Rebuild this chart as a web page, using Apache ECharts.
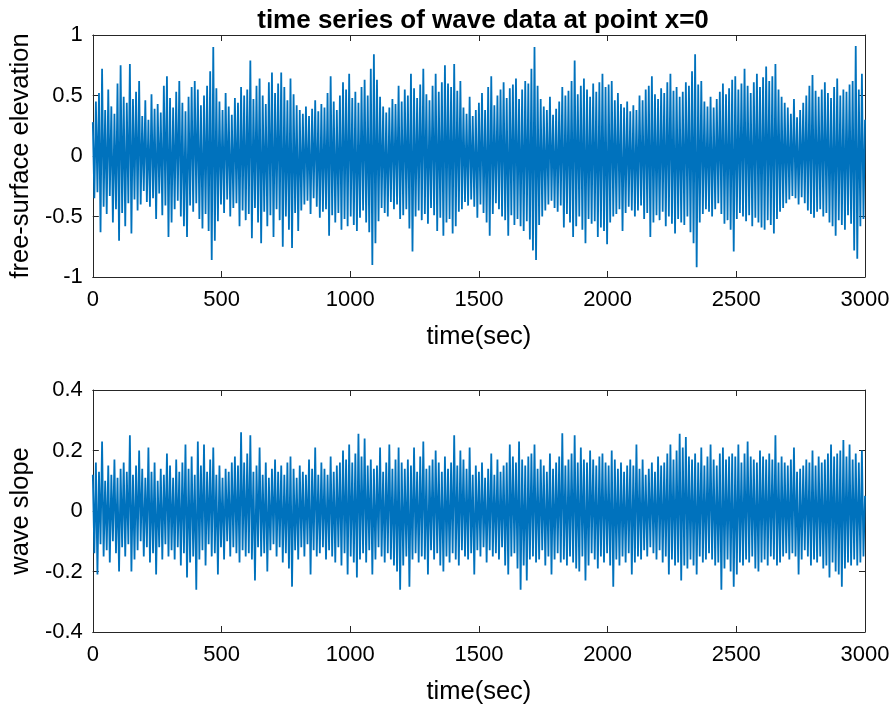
<!DOCTYPE html>
<html>
<head>
<meta charset="utf-8">
<script src="https://cdn.jsdelivr.net/npm/echarts@6/dist/echarts.min.js"></script>
<style>html,body{margin:0;padding:0;background:#fff}#c{width:894px;height:707px}</style>
</head>
<body>
<div id="c"></div>
<script>
// sampling step (sec) of the hand-read envelope series
const dt = 6;
const title = 'time series of wave data at point x=0';
const xName = 'time(sec)';
const yName1 = 'free-surface elevation';
const yName2 = 'wave slope';

// free-surface elevation, t = 0..2994 step 6, then t=3000
const elev = [
0.28,-0.35,0.45,-0.30,0.52,-0.63,0.72,-0.42,0.38,-0.48,0.55,-0.33,0.41,-0.55,0.35,-0.44,0.60,-0.70,0.75,-0.47,0.49,-0.58,0.44,-0.39,0.76,-0.64,0.47,-0.36,0.53,-0.45,0.62,-0.40,0.33,-0.29,0.46,-0.38,0.30,-0.42,0.51,-0.35,0.39,-0.52,0.43,-0.31,0.36,-0.49,0.58,-0.41,0.66,-0.67,
0.48,-0.55,0.40,-0.44,0.53,-0.37,0.62,-0.50,0.44,-0.58,0.37,-0.67,0.49,-0.41,0.57,-0.46,0.62,-0.39,0.55,-0.52,0.42,-0.60,0.50,-0.48,0.58,-0.62,0.70,-0.86,0.90,-0.70,0.56,-0.54,0.45,-0.40,0.38,-0.47,0.52,-0.36,0.41,-0.50,0.34,-0.43,0.48,-0.39,0.44,-0.58,0.57,-0.45,0.50,-0.53,
0.55,-0.48,0.79,-0.68,0.47,-0.43,0.58,-0.55,0.64,-0.72,0.50,-0.46,0.43,-0.58,0.61,-0.49,0.69,-0.67,0.52,-0.44,0.60,-0.53,0.69,-0.75,0.57,-0.50,0.46,-0.61,0.64,-0.76,0.51,-0.47,0.42,-0.62,0.38,-0.45,0.35,-0.40,0.41,-0.37,0.33,-0.48,0.39,-0.35,0.46,-0.42,0.37,-0.51,0.43,-0.46,
0.40,-0.44,0.52,-0.66,0.66,-0.49,0.45,-0.55,0.38,-0.47,0.50,-0.61,0.61,-0.52,0.55,-0.58,0.68,-0.50,0.48,-0.57,0.53,-0.62,0.44,-0.51,0.57,-0.45,0.63,-0.55,0.50,-0.63,0.72,-0.90,0.84,-0.72,0.63,-0.54,0.49,-0.43,0.41,-0.47,0.36,-0.50,0.40,-0.38,0.47,-0.44,0.43,-0.40,0.58,-0.52,
0.45,-0.49,0.55,-0.44,0.50,-0.60,0.68,-0.79,0.56,-0.50,0.48,-0.45,0.59,-0.53,0.72,-0.48,0.51,-0.56,0.46,-0.43,0.58,-0.49,0.68,-0.62,0.53,-0.51,0.61,-0.66,0.75,-0.55,0.60,-0.52,0.57,-0.64,0.76,-0.58,0.54,-0.46,0.62,-0.44,0.40,-0.38,0.35,-0.41,0.49,-0.36,0.33,-0.42,0.38,-0.51,
0.44,-0.40,0.52,-0.47,0.38,-0.55,0.57,-0.66,0.66,-0.48,0.42,-0.39,0.50,-0.44,0.55,-0.50,0.61,-0.53,0.48,-0.66,0.56,-0.49,0.59,-0.57,0.64,-0.52,0.47,-0.58,0.55,-0.62,0.62,-0.54,0.60,-0.69,0.72,-0.78,0.90,-0.86,0.58,-0.57,0.47,-0.50,0.41,-0.45,0.38,-0.40,0.49,-0.37,0.34,-0.43,
0.39,-0.46,0.45,-0.41,0.57,-0.59,0.50,-0.48,0.54,-0.55,0.62,-0.67,0.79,-0.58,0.51,-0.50,0.58,-0.61,0.64,-0.72,0.55,-0.52,0.49,-0.56,0.60,-0.54,0.53,-0.67,0.61,-0.59,0.68,-0.62,0.57,-0.73,0.59,-0.55,0.62,-0.50,0.46,-0.48,0.52,-0.44,0.43,-0.62,0.40,-0.47,0.45,-0.42,0.37,-0.45,
0.42,-0.50,0.38,-0.45,0.50,-0.41,0.46,-0.52,0.55,-0.47,0.58,-0.67,0.66,-0.55,0.51,-0.49,0.47,-0.53,0.56,-0.46,0.52,-0.58,0.61,-0.50,0.68,-0.56,0.54,-0.64,0.57,-0.52,0.49,-0.55,0.53,-0.57,0.61,-0.50,0.58,-0.63,0.70,-0.72,0.84,-0.92,0.59,-0.55,0.62,-0.48,0.45,-0.44,0.41,-0.46,
0.49,-0.50,0.40,-0.44,0.47,-0.39,0.53,-0.48,0.60,-0.56,0.51,-0.53,0.56,-0.61,0.63,-0.79,0.66,-0.52,0.55,-0.47,0.60,-0.50,0.72,-0.54,0.58,-0.49,0.52,-0.58,0.61,-0.51,0.68,-0.55,0.57,-0.59,0.65,-0.61,0.74,-0.53,0.62,-0.57,0.66,-0.64,0.76,-0.52,0.55,-0.46,0.49,-0.43,0.44,-0.39,
0.40,-0.36,0.35,-0.33,0.47,-0.35,0.32,-0.40,0.38,-0.34,0.44,-0.39,0.50,-0.45,0.58,-0.48,0.67,-0.51,0.54,-0.46,0.49,-0.44,0.55,-0.50,0.61,-0.47,0.52,-0.55,0.48,-0.58,0.57,-0.66,0.64,-0.53,0.50,-0.57,0.55,-0.61,0.53,-0.49,0.59,-0.56,0.62,-0.78,0.91,-0.85,0.55,-0.58,0.68,-0.52,
0.30
];

// wave slope, t = 0..2994 step 6, then t=3000
const slope = [
0.12,-0.14,0.16,-0.21,0.13,-0.11,0.23,-0.15,0.10,-0.13,0.15,-0.17,0.12,-0.10,0.17,-0.14,0.11,-0.20,0.14,-0.12,0.16,-0.15,0.13,-0.11,0.25,-0.20,0.12,-0.16,0.15,-0.13,0.20,-0.10,0.14,-0.15,0.11,-0.12,0.21,-0.17,0.13,-0.14,0.16,-0.21,0.10,-0.12,0.14,-0.16,0.12,-0.11,0.19,-0.15,
0.15,-0.13,0.11,-0.16,0.17,-0.12,0.13,-0.18,0.16,-0.14,0.22,-0.22,0.14,-0.17,0.18,-0.15,0.12,-0.26,0.23,-0.16,0.15,-0.13,0.22,-0.18,0.13,-0.11,0.17,-0.15,0.21,-0.14,0.12,-0.21,0.15,-0.12,0.11,-0.16,0.14,-0.10,0.13,-0.15,0.16,-0.12,0.18,-0.14,0.15,-0.17,0.26,-0.13,0.16,-0.15,
0.19,-0.14,0.25,-0.16,0.13,-0.23,0.15,-0.12,0.21,-0.15,0.12,-0.14,0.16,-0.20,0.11,-0.13,0.14,-0.11,0.17,-0.15,0.13,-0.12,0.15,-0.17,0.12,-0.14,0.16,-0.19,0.18,-0.25,0.14,-0.13,0.11,-0.16,0.15,-0.12,0.13,-0.15,0.12,-0.11,0.17,-0.21,0.14,-0.13,0.21,-0.15,0.12,-0.14,0.16,-0.12,
0.14,-0.16,0.12,-0.13,0.18,-0.15,0.13,-0.17,0.15,-0.12,0.16,-0.18,0.20,-0.14,0.17,-0.21,0.22,-0.15,0.16,-0.17,0.19,-0.22,0.255,-0.16,0.18,-0.14,0.24,-0.17,0.15,-0.13,0.17,-0.21,0.14,-0.16,0.15,-0.12,0.21,-0.15,0.13,-0.17,0.16,-0.14,0.22,-0.16,0.14,-0.18,0.17,-0.20,0.21,-0.26,
0.16,-0.18,0.14,-0.15,0.17,-0.25,0.15,-0.16,0.21,-0.14,0.13,-0.17,0.18,-0.15,0.23,-0.16,0.14,-0.21,0.15,-0.13,0.17,-0.16,0.20,-0.14,0.16,-0.18,0.13,-0.20,0.18,-0.15,0.14,-0.17,0.16,-0.14,0.25,-0.16,0.15,-0.18,0.20,-0.13,0.17,-0.15,0.14,-0.16,0.21,-0.14,0.12,-0.21,0.15,-0.13,
0.13,-0.15,0.16,-0.12,0.11,-0.17,0.14,-0.13,0.19,-0.15,0.12,-0.14,0.17,-0.16,0.13,-0.12,0.15,-0.18,0.16,-0.21,0.22,-0.15,0.18,-0.14,0.16,-0.19,0.23,-0.26,0.17,-0.18,0.15,-0.23,0.18,-0.16,0.19,-0.15,0.22,-0.17,0.14,-0.16,0.17,-0.13,0.15,-0.18,0.13,-0.15,0.19,-0.21,0.14,-0.16,
0.16,-0.14,0.18,-0.17,0.257,-0.16,0.15,-0.18,0.17,-0.15,0.19,-0.17,0.25,-0.19,0.16,-0.20,0.21,-0.15,0.17,-0.23,0.16,-0.18,0.20,-0.14,0.17,-0.16,0.15,-0.19,0.18,-0.15,0.19,-0.17,0.16,-0.14,0.15,-0.18,0.20,-0.25,0.17,-0.16,0.14,-0.18,0.16,-0.15,0.13,-0.17,0.15,-0.14,0.17,-0.21,
0.15,-0.17,0.22,-0.15,0.14,-0.16,0.17,-0.13,0.12,-0.15,0.14,-0.12,0.16,-0.14,0.13,-0.16,0.18,-0.13,0.15,-0.17,0.16,-0.15,0.19,-0.21,0.22,-0.16,0.17,-0.18,0.20,-0.17,0.255,-0.23,0.21,-0.18,0.245,-0.19,0.18,-0.16,0.17,-0.18,0.19,-0.21,0.16,-0.15,0.21,-0.17,0.15,-0.16,0.18,-0.14,
0.22,-0.16,0.17,-0.18,0.15,-0.17,0.19,-0.26,0.21,-0.19,0.17,-0.16,0.18,-0.20,0.19,-0.25,0.18,-0.21,0.22,-0.17,0.16,-0.18,0.19,-0.16,0.23,-0.17,0.18,-0.15,0.17,-0.19,0.16,-0.20,0.20,-0.17,0.18,-0.16,0.17,-0.18,0.19,-0.15,0.17,-0.16,0.25,-0.18,0.16,-0.17,0.18,-0.15,0.16,-0.14,
0.15,-0.16,0.17,-0.14,0.21,-0.15,0.13,-0.21,0.14,-0.16,0.15,-0.13,0.17,-0.15,0.16,-0.18,0.20,-0.16,0.15,-0.17,0.18,-0.15,0.16,-0.19,0.17,-0.18,0.19,-0.22,0.22,-0.17,0.18,-0.20,0.19,-0.21,0.20,-0.25,0.235,-0.19,0.18,-0.17,0.22,-0.18,0.17,-0.16,0.19,-0.18,0.16,-0.17,0.20,-0.15,
0.05
];

const toPairs = arr => arr.map((v, i) => [Math.min(i * dt, 3000), v]);

const FONT = '"Liberation Sans", Arial, sans-serif';
const AX = '#262626';
const LINE = '#0072BD';

const axisLineStyle = { show: true, onZero: false, lineStyle: { color: AX, width: 1 } };
const tickStyle = { show: true, inside: true, length: 6, lineStyle: { color: AX } };

function mainX(gi) {
  return {
    gridIndex: gi, type: 'value', min: 0, max: 3000, interval: 500,
    name: xName, nameLocation: 'middle', nameGap: 47,
    nameTextStyle: { fontFamily: FONT, fontSize: 25.5, color: '#000' },
    axisLine: axisLineStyle, axisTick: tickStyle,
    axisLabel: { fontFamily: FONT, fontSize: 22, color: '#000', margin: 12, formatter: v => String(v) },
    splitLine: { show: false }
  };
}
function topX(gi) {
  return {
    gridIndex: gi, type: 'value', position: 'top', min: 0, max: 3000, interval: 500,
    axisLine: axisLineStyle, axisTick: tickStyle,
    axisLabel: { show: false }, splitLine: { show: false }
  };
}
function mainY(gi, min, max, interval, name, gap) {
  return {
    gridIndex: gi, type: 'value', min: min, max: max, interval: interval,
    name: name, nameLocation: 'middle', nameGap: gap,
    nameTextStyle: { fontFamily: FONT, fontSize: 25.5, color: '#000' },
    axisLine: axisLineStyle, axisTick: tickStyle,
    axisLabel: { fontFamily: FONT, fontSize: 22, color: '#000', margin: 10 },
    splitLine: { show: false }
  };
}
function rightY(gi, min, max, interval) {
  return {
    gridIndex: gi, type: 'value', position: 'right', min: min, max: max, interval: interval,
    axisLine: axisLineStyle, axisTick: tickStyle,
    axisLabel: { show: false }, splitLine: { show: false }
  };
}

const chart = echarts.init(document.getElementById('c'), null, { renderer: 'canvas' });
chart.setOption({
  animation: false,
  backgroundColor: '#fff',
  title: {
    text: title, left: 478, top: 3, textAlign: 'center',
    textStyle: { fontFamily: FONT, fontSize: 26, fontWeight: 'bold', color: '#000' }
  },
  grid: [
    { left: 91, right: 29, top: 35, height: 242 },
    { left: 91, right: 29, top: 390, height: 242 }
  ],
  xAxis: [mainX(0), topX(0), mainX(1), topX(1)],
  yAxis: [
    mainY(0, -1, 1, 0.5, yName1, 56),
    rightY(0, -1, 1, 0.5),
    mainY(1, -0.4, 0.4, 0.2, yName2, 56),
    rightY(1, -0.4, 0.4, 0.2)
  ],
  series: [
    { type: 'line', xAxisIndex: 0, yAxisIndex: 0, data: toPairs(elev), showSymbol: false, sampling: null,
      lineStyle: { color: LINE, width: 1.8 }, z: 1 },
    { type: 'line', xAxisIndex: 2, yAxisIndex: 2, data: toPairs(slope), showSymbol: false, sampling: null,
      lineStyle: { color: LINE, width: 1.8 }, z: 1 }
  ]
});
</script>
</body>
</html>
